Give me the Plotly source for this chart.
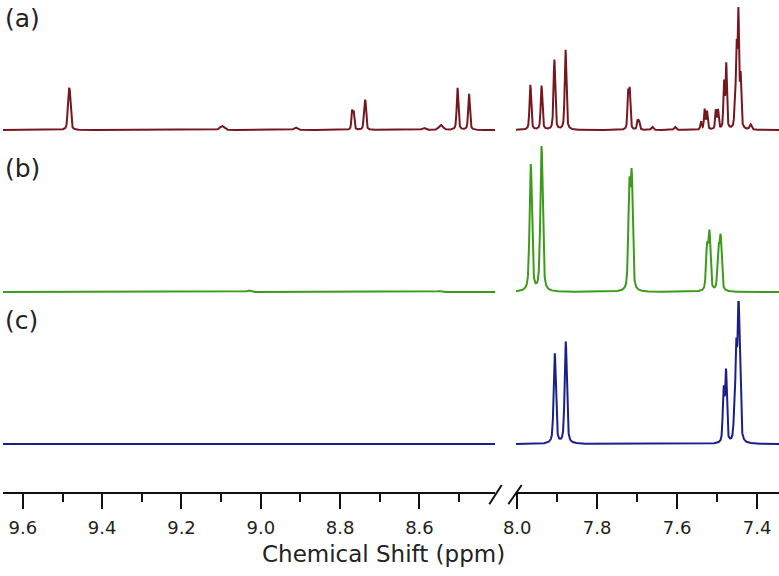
import numpy as np
import plotly.graph_objects as go

W, H = 779, 576

# ---- peak tables (ppm, height in px-units)
a_ppm = [9.4850, 9.4815, 9.098, 8.912, 8.770, 8.766, 8.739, 8.736, 8.589, 8.546, 8.504, 8.475,
         7.967, 7.939, 7.907, 7.879, 7.7225, 7.7185, 7.699, 7.695, 7.662, 7.605, 7.540,
         7.531, 7.525, 7.503, 7.4975, 7.4825, 7.477, 7.455, 7.451, 7.4465, 7.441, 7.416]
a_int = [30, 30, 4, 2.5, 18, 17, 22, 23, 2, 5, 42, 36,
         45, 44, 70, 80, 36, 38, 9, 8, 3, 3, 8,
         20, 18, 19, 19, 46, 64, 22, 76, 112, 50, 5]
a_fw = [0.005, 0.005, 0.012, 0.010, 0.004, 0.004, 0.004, 0.004, 0.010, 0.012, 0.005, 0.005,
        0.005, 0.005, 0.005, 0.005, 0.004, 0.004, 0.004, 0.004, 0.006, 0.006, 0.004,
        0.004, 0.004, 0.004, 0.004, 0.004, 0.004, 0.004, 0.004, 0.004, 0.004, 0.006]

b_ppm = [9.03, 8.55, 7.966, 7.939, 7.7195, 7.7135, 7.525, 7.519, 7.4965, 7.491]
b_int = [1.5, 1.0, 127, 145, 100, 110, 42, 56, 38, 51]
b_fw = [0.012, 0.012, 0.007, 0.007, 0.006, 0.006, 0.006, 0.006, 0.006, 0.006]

c_ppm = [7.906, 7.8785, 7.4835, 7.4775, 7.457, 7.452, 7.4465, 7.4425]
c_int = [90, 102, 52, 70, 18, 88, 125, 62]
c_fw = [0.0065, 0.0065, 0.005, 0.005, 0.005, 0.005, 0.005, 0.005]

# axis tick values
left_ticks = [9.6, 9.4, 9.2, 9.0, 8.8, 8.6]
right_ticks = [8.0, 7.8, 7.6, 7.4]

left_range = [9.65, 8.4096]
right_range = [8.003, 7.345]

colors = ['#76171f', '#3c9b1a', '#1b2088']
labels = ['(a)', '(b)', '(c)']
ETA = 0.5  # lorentzian fraction of the line shape


def spectrum(x, ppm, inten, fw):
    y = np.zeros_like(x)
    for p, h, f in zip(ppm, inten, fw):
        g = f / 2.0
        lor = g * g / ((x - p) ** 2 + g * g)
        gau = np.exp(-4 * np.log(2) * ((x - p) / f) ** 2)
        y += h * (ETA * lor + (1 - ETA) * gau)
    return y


xl = np.linspace(left_range[0], left_range[1], 3000)
xr = np.linspace(right_range[0], right_range[1], 2000)


def px(x):
    return x / W


def py(y):
    return 1 - y / H


fig = go.Figure()
tables = [(a_ppm, a_int, a_fw), (b_ppm, b_int, b_fw), (c_ppm, c_int, c_fw)]
yaxes = ['y', 'y2', 'y3']
for i, (pp, ii, ff) in enumerate(tables):
    width = 2.0
    for xa, xs in (('x', xl), ('x2', xr)):
        fig.add_trace(go.Scatter(x=xs, y=spectrum(xs, pp, ii, ff), mode='lines',
                                 line=dict(color=colors[i], width=width),
                                 xaxis=xa, yaxis=yaxes[i], showlegend=False,
                                 hoverinfo='skip', cliponaxis=False))

axis_y = py(493)
common_x = dict(anchor='free', position=axis_y, showline=True, linecolor='#111', linewidth=2,
                ticks='outside', ticklen=15, tickwidth=2, tickcolor='#111',
                showgrid=False, zeroline=False, tickformat='.1f', automargin=False,
                tickfont=dict(family='DejaVu Sans', size=18, color='#222'),
                ticklabelstandoff=3,
                minor=dict(ticks='outside', ticklen=8, tickwidth=2, tickcolor='#111',
                           tick0=0.0, dtick=0.1, showgrid=False))

fig.update_layout(
    template='none',
    width=W, height=H, margin=dict(l=0, r=0, t=0, b=0, pad=0, autoexpand=False),
    paper_bgcolor='white', plot_bgcolor='rgba(0,0,0,0)',
    xaxis=dict(domain=[px(3), px(495)], range=left_range, tickvals=left_ticks, **common_x),
    xaxis2=dict(domain=[px(516), 1.0], range=right_range, tickvals=right_ticks, **common_x),
    yaxis=dict(domain=[py(140), py(2)], range=[-10, 128], visible=False, anchor='x',
               automargin=False),
    yaxis2=dict(domain=[py(300), py(141)], range=[-8, 151], visible=False, anchor='x',
                automargin=False),
    yaxis3=dict(domain=[py(455), py(301)], range=[-11, 143], visible=False, anchor='x',
                automargin=False),
)

# break marks
for (x0, y0, x1, y1) in [(489.3, 504.3, 501.7, 485), (508.3, 504.3, 521.7, 485)]:
    fig.add_shape(type='line', xref='paper', yref='paper',
                  x0=px(x0), y0=py(y0), x1=px(x1), y1=py(y1),
                  line=dict(color='#111', width=2))

label_y = [18, 168, 320]
for lab, yy in zip(labels, label_y):
    fig.add_annotation(text=lab, xref='paper', yref='paper', x=px(3), y=py(yy),
                       xanchor='left', yanchor='middle', showarrow=False,
                       font=dict(family='DejaVu Sans', size=25, color='#222'))

fig.add_annotation(text='Chemical Shift (ppm)', xref='paper', yref='paper', x=px(383), y=py(554),
                   xanchor='center', yanchor='middle', showarrow=False,
                   font=dict(family='DejaVu Sans', size=23, color='#222'))

fig.write_html('out.html', config={'displayModeBar': False, 'staticPlot': True},
               post_script="document.body.style.margin='0px';document.body.style.padding='0px';")
